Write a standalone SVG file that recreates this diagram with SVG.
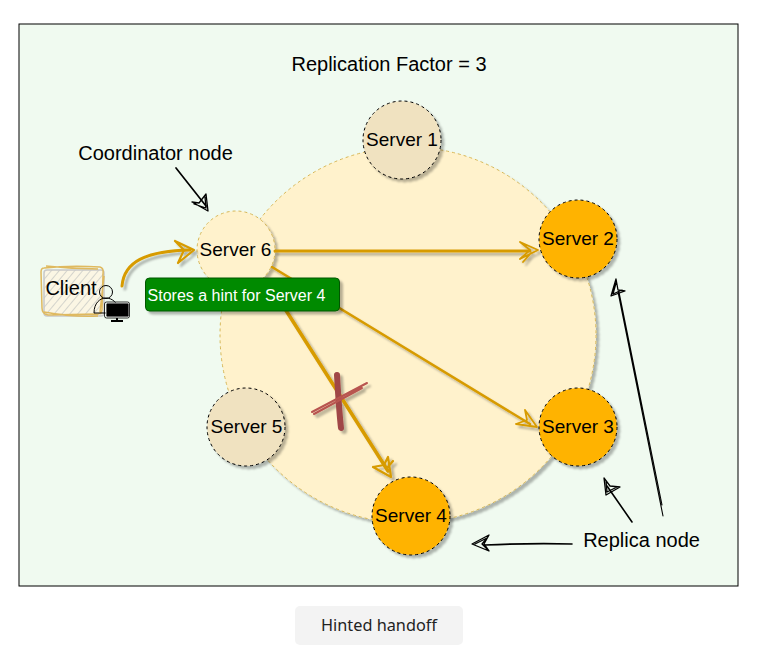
<svg xmlns="http://www.w3.org/2000/svg" width="772" height="656" viewBox="0 0 772 656">
<defs>
<filter id="sh" x="-20%" y="-20%" width="140%" height="140%"><feDropShadow dx="3" dy="3" stdDeviation="0.8" flood-color="#000" flood-opacity="0.28"/></filter>
<pattern id="hatch" width="6" height="6" patternUnits="userSpaceOnUse" patternTransform="rotate(40)"><rect width="6" height="6" fill="#fbf6e4"/><line x1="0" y1="0" x2="0" y2="6" stroke="#d4d4cc" stroke-width="2"/></pattern>
</defs>
<style>
text{font-family:"Liberation Sans",Arial,sans-serif;font-size:20px;fill:#000;text-anchor:middle}
.sl{font-size:19px}
.srv{stroke:#000;stroke-width:1;stroke-dasharray:3 3;filter:url(#sh)}
.rep{fill:#ffb300}
.oth{fill:#f0e2c0}
.gold{fill:none;stroke:#d79b00;stroke-linecap:round;stroke-linejoin:round}
.blk{fill:none;stroke:#000;stroke-linecap:round;stroke-linejoin:round}
</style>
<rect width="772" height="656" fill="#fff"/>
<rect id="frame" x="19" y="24" width="719" height="562" fill="#f0faf0" stroke="#000" stroke-width="1"/>
<text id="title" x="389" y="71">Replication Factor = 3</text>
<g id="ring"><circle cx="408" cy="335" r="188" fill="#fff2cc" stroke="#d6b656" stroke-width="1" stroke-dasharray="3 3" filter="url(#sh)"/></g>
<g id="server1"><circle class="srv oth" cx="402" cy="140" r="39"/><text class="sl" x="402" y="146">Server 1</text></g>
<g id="server5"><circle class="srv oth" cx="246" cy="427" r="39"/><text class="sl" x="246.500" y="433">Server 5</text></g>
<g id="server6"><circle cx="236" cy="250" r="39" fill="#fff2cc" stroke="#d6b656" stroke-dasharray="3 3" filter="url(#sh)"/><text class="sl" x="235.500" y="256">Server 6</text></g>
<g id="connectors">
<g filter="url(#sh)">
<path class="gold" stroke-width="3" d="M122 286C124 262 145 251 190 250"/>
<path class="gold" stroke-width="2.200" d="M175 241L194 250L178 263M175 241L184 250L178 263"/>
<path class="gold" stroke-width="3" d="M275 251L530 251"/>
<path class="gold" stroke-width="1.800" d="M520 242L538 250L520 259M520 242L530 250L520 259M523 262L531 253"/>
<path class="gold" stroke-width="2.500" d="M272 267L530 424"/>
<path class="gold" stroke-width="1.800" d="M525 410L537 427L516 424M525 410L527 420L516 424"/>
<path class="gold" stroke-width="3.500" d="M273 290L388 471"/>
<path class="gold" stroke-width="2.200" d="M373 467L391 477L388 457M373 467L384 465L388 457M387 468L393 461"/>
<path d="M337 375Q339 410 341 428" fill="none" stroke="#a04646" stroke-width="6" stroke-linecap="round"/>
<path d="M312 412L367 383M314 414L362 388" fill="none" stroke="#b85450" stroke-width="2" stroke-linecap="round"/>
</g>
<path class="blk" stroke-width="1.700" d="M176 168L206 206"/>
<path class="blk" stroke-width="1.300" d="M192 202L208 211L206 194L199 203ZM194 204L206 208L205 197"/>
<path class="blk" stroke-width="1.100" d="M663 516L618 292M662 505L619 292"/>
<path class="blk" stroke-width="1.300" d="M616 279L611 296L625 291L618 290ZM616 283L613 294L622 290"/>
<path class="blk" stroke-width="1.600" d="M632 522L607 486"/>
<path class="blk" stroke-width="1.300" d="M604 478L606 495L620 487L610 486ZM606 481L607 492L617 487"/>
<path class="blk" stroke-width="1.600" d="M572 544Q530 543 485 545"/>
<path class="blk" stroke-width="1.300" d="M472 544L489 535L484 544L489 551ZM475 544L487 538L482 544L487 549"/>
</g>
<g id="server2"><circle class="srv rep" cx="578" cy="239" r="39"/><text class="sl" x="578" y="245">Server 2</text></g>
<g id="server3"><circle class="srv rep" cx="578" cy="427" r="39"/><text class="sl" x="578" y="433">Server 3</text></g>
<g id="server4"><circle class="srv rep" cx="411" cy="516" r="39"/><text class="sl" x="411" y="522">Server 4</text></g>
<g id="hint"><rect x="145.500" y="278" width="194" height="33" rx="4" fill="#008a00" stroke="#005700" stroke-width="1" filter="url(#sh)"/><text x="236.500" y="301" style="fill:#fff;font-size:16px">Stores a hint for Server 4</text></g>
<text id="coord" x="155.500" y="160">Coordinator node</text>
<text id="replica" x="641.500" y="547">Replica node</text>
<g id="client">
<rect x="42" y="268" width="60" height="46" rx="3" fill="url(#hatch)" stroke="#c8c8c8" stroke-width="1.500" transform="translate(2 2)"/>
<path d="M44 268Q70 265 100 267Q104 268 103 274L102 310Q101 315 96 314L48 315Q42 314 42 308L41 272Q41 268 44 268M46 266Q72 269 98 269M104 276L100 312M44 312Q70 317 98 316" fill="none" stroke="#dfb95f" stroke-width="1.500"/>
<text x="71" y="295">Client</text>
<circle cx="106" cy="292" r="6.500" fill="none" stroke="#000" stroke-width="1"/>
<path d="M94 313C94 303 100 298 106 298C112 298 118 303 118 309M94 313H106" fill="none" stroke="#000" stroke-width="1"/>
<rect x="106" y="303" width="23" height="14" rx="1.500" fill="#000" stroke="#fff" stroke-width="0.800"/>
<rect x="104.500" y="302" width="25" height="16" rx="2" fill="none" stroke="#000" stroke-width="0.800"/>
<path d="M117 318V320M111 321H123" stroke="#000" stroke-width="2" fill="none"/>
</g>
<g id="caption"><rect x="295" y="606" width="168" height="39" rx="5" fill="#f3f3f3"/><text x="379" y="631" style="font-family:'Noto Sans',sans-serif;font-size:16.300px;fill:#222">Hinted handoff</text></g>
</svg>
